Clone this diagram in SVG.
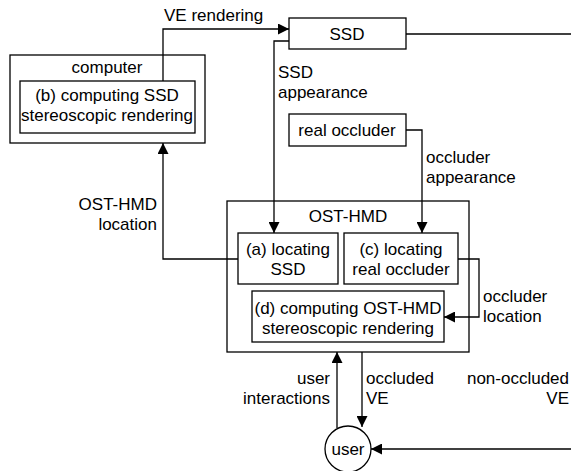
<svg xmlns="http://www.w3.org/2000/svg" width="571" height="471" viewBox="0 0 571 471">
<defs>
<marker id="ah" viewBox="0 0 10 10" refX="10" refY="5" markerWidth="11" markerHeight="11" markerUnits="userSpaceOnUse" orient="auto">
<path d="M0,0 L10,5 L0,10 Z" fill="#000"/>
</marker>
</defs>
<style>
rect,circle{fill:#fff;stroke:#000;stroke-width:1.3}
.c path{fill:none;stroke:#000;stroke-width:1.3}
text{font-family:"Liberation Sans",Arial,sans-serif;font-size:17px;fill:#000}
.m{text-anchor:middle}
.e{text-anchor:end}
</style>
<rect x="0" y="0" width="571" height="471" style="fill:#fff;stroke:none"/>
<g id="computer">
<rect x="10" y="55" width="195" height="88"/>
<text class="m" x="107" y="73">computer</text>
</g>
<g id="b">
<rect x="20" y="81" width="175" height="52"/>
<text class="m" x="107" y="101">(b) computing SSD</text>
<text class="m" x="107" y="121">stereoscopic rendering</text>
</g>
<g id="ssd">
<rect x="289" y="18" width="117" height="31"/>
<text class="m" x="347" y="40">SSD</text>
</g>
<g id="real-occluder">
<rect x="289" y="114" width="117" height="32"/>
<text class="m" x="347" y="136">real occluder</text>
</g>
<g id="ost-hmd">
<rect x="227" y="201" width="242" height="151"/>
<text class="m" x="348" y="222">OST-HMD</text>
</g>
<g id="a">
<rect x="238" y="233" width="100" height="51"/>
<text class="m" x="288" y="255">(a) locating</text>
<text class="m" x="288" y="275">SSD</text>
</g>
<g id="c">
<rect x="344" y="233" width="114" height="51"/>
<text class="m" x="401" y="255">(c) locating</text>
<text class="m" x="401" y="275">real occluder</text>
</g>
<g id="d">
<rect x="252" y="291" width="192" height="51"/>
<text class="m" x="348" y="314">(d) computing OST-HMD</text>
<text class="m" x="348" y="334">stereoscopic rendering</text>
</g>
<g id="user">
<circle cx="348" cy="449" r="23"/>
<text class="m" x="348" y="455">user</text>
</g>
<g class="c" id="connectors">
<path d="M163,81 V29 H289" marker-end="url(#ah)"/>
<path d="M406,34 H571"/>
<path d="M289,41 H274 V233" marker-end="url(#ah)"/>
<path d="M406,130 H422 V233" marker-end="url(#ah)"/>
<path d="M458,259 H479 V317 H444" marker-end="url(#ah)"/>
<path d="M238,259 H163 V143" marker-end="url(#ah)"/>
<path d="M337,428 V352" marker-end="url(#ah)"/>
<path d="M362,352 V427" marker-end="url(#ah)"/>
<path d="M571,449 H371" marker-end="url(#ah)"/>
</g>
<g id="labels">
<text x="164" y="21">VE rendering</text>
<text x="278" y="78">SSD</text>
<text x="278" y="98">appearance</text>
<text x="426" y="163">occluder</text>
<text x="426" y="183">appearance</text>
<text class="e" x="157" y="210">OST-HMD</text>
<text class="e" x="157" y="230">location</text>
<text x="483" y="302">occluder</text>
<text x="483" y="322">location</text>
<text class="e" x="330" y="384">user</text>
<text class="e" x="330" y="404">interactions</text>
<text x="366" y="384">occluded</text>
<text x="366" y="404">VE</text>
<text class="e" x="569" y="384">non-occluded</text>
<text class="e" x="569" y="404">VE</text>
</g>
</svg>
